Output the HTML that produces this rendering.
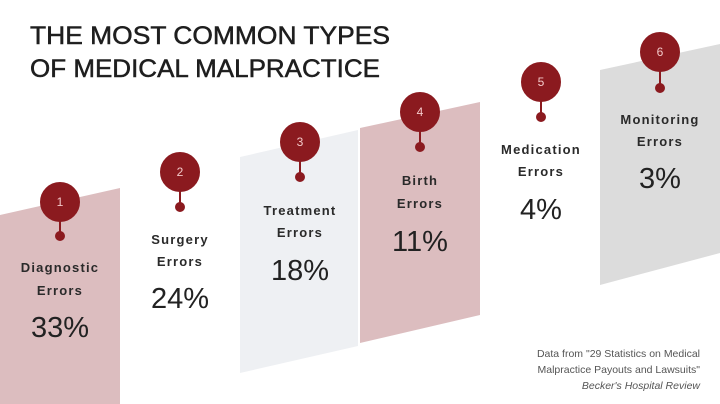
<!DOCTYPE html>
<html><head><meta charset="utf-8"><style>
html,body{margin:0;padding:0;background:#fff;}
svg{display:block}
</style></head><body>
<svg width="720" height="404" viewBox="0 0 720 404" xmlns="http://www.w3.org/2000/svg" font-family="Liberation Sans, sans-serif">
<rect width="720" height="404" fill="#fff"/>
<polygon points="0,215 120,188 120,404 0,404" fill="#dcbdbf"/>
<polygon points="240,157 358,130 358,346 240,373" fill="#eef0f3"/>
<polygon points="360,128 480,102 480,315 360,343" fill="#dcbdbf"/>
<polygon points="600,70 720,44 720,253 600,285" fill="#dcdcdc"/>
<g fill="#1e1e1e" stroke="#1e1e1e" stroke-width="0.5">
<text x="30" y="44" font-size="25" textLength="360" lengthAdjust="spacingAndGlyphs">THE MOST COMMON TYPES</text>
<text x="30" y="77" font-size="25" textLength="350" lengthAdjust="spacingAndGlyphs">OF MEDICAL MALPRACTICE</text>
</g>
<g stroke="#8b1a1f" stroke-width="2" fill="#8b1a1f">
<line x1="60" y1="202" x2="60" y2="236"/><circle cx="60" cy="202" r="19"/><circle cx="60" cy="236" r="4"/>
<line x1="180" y1="172" x2="180" y2="207"/><circle cx="180" cy="172" r="19"/><circle cx="180" cy="207" r="4"/>
<line x1="300" y1="142" x2="300" y2="177"/><circle cx="300" cy="142" r="19"/><circle cx="300" cy="177" r="4"/>
<line x1="420" y1="112" x2="420" y2="147"/><circle cx="420" cy="112" r="19"/><circle cx="420" cy="147" r="4"/>
<line x1="541" y1="82" x2="541" y2="117"/><circle cx="541" cy="82" r="19"/><circle cx="541" cy="117" r="4"/>
<line x1="660" y1="52" x2="660" y2="88"/><circle cx="660" cy="52" r="19"/><circle cx="660" cy="88" r="4"/>
</g>
<g fill="#f3c9c9" font-size="12" text-anchor="middle">
<text x="60" y="206">1</text><text x="180" y="176">2</text><text x="300" y="146">3</text>
<text x="420" y="116">4</text><text x="541" y="86">5</text><text x="660" y="56">6</text>
</g>
<g fill="#2a2a2a" font-size="13" font-weight="bold" text-anchor="middle" letter-spacing="1.2">
<text x="60" y="272">Diagnostic</text><text x="60" y="295">Errors</text>
<text x="180" y="244">Surgery</text><text x="180" y="266">Errors</text>
<text x="300" y="215">Treatment</text><text x="300" y="237">Errors</text>
<text x="420" y="185">Birth</text><text x="420" y="208">Errors</text>
<text x="541" y="154">Medication</text><text x="541" y="176">Errors</text>
<text x="660" y="124">Monitoring</text><text x="660" y="146">Errors</text>
</g>
<g fill="#222" font-size="29" text-anchor="middle">
<text x="60" y="337">33%</text>
<text x="180" y="308">24%</text>
<text x="300" y="280">18%</text>
<text x="420" y="251">11%</text>
<text x="541" y="219">4%</text>
<text x="660" y="188">3%</text>
</g>
<g fill="#555" font-size="10.5" text-anchor="end">
<text x="700" y="357">Data  from "29 Statistics on Medical</text>
<text x="700" y="373">Malpractice Payouts and Lawsuits"</text>
<text x="700" y="389" font-style="italic">Becker's Hospital Review</text>
</g>
</svg>
</body></html>
